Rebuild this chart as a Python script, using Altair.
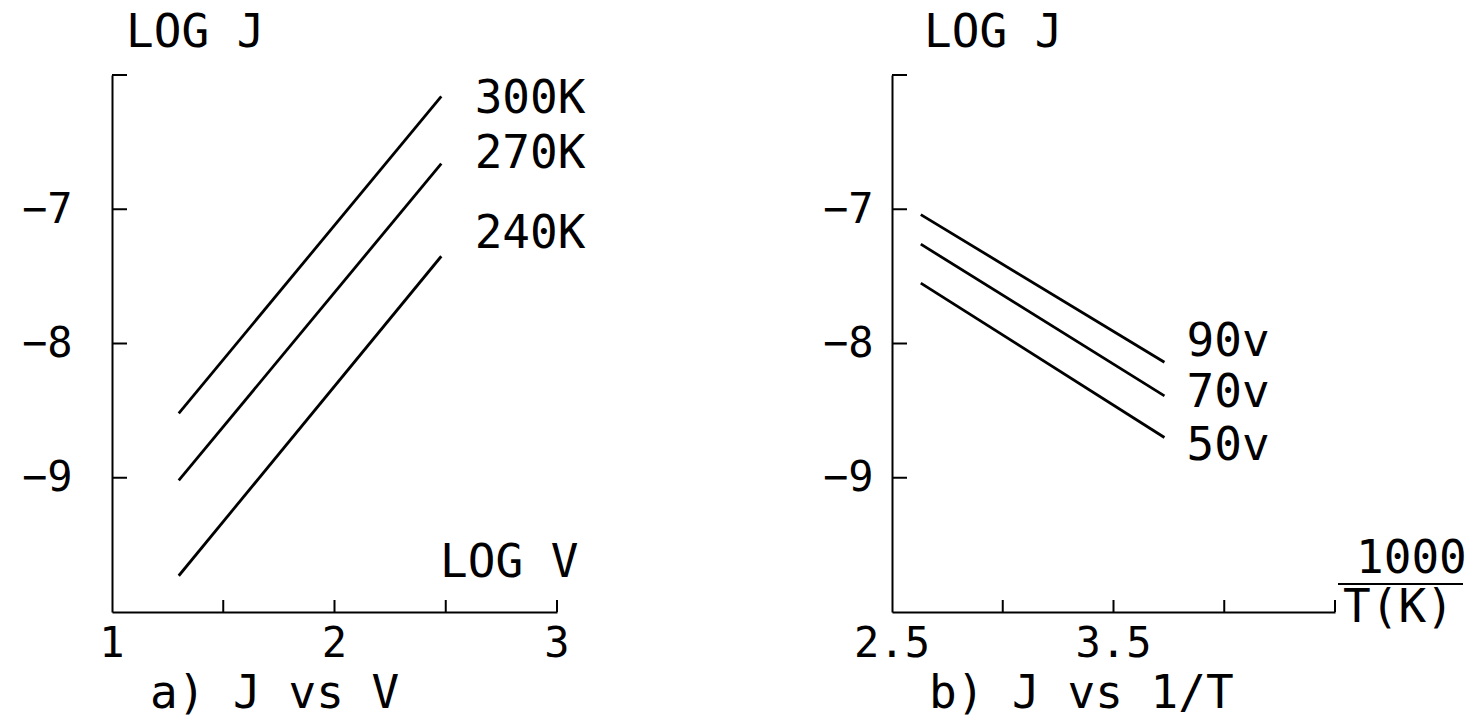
import altair as alt
import pandas as pd

# ---------------- data ----------------
# panel a) log J vs log V
log_v = [1.3, 2.48]
log_j_300k = [-8.52, -6.16]
log_j_270k = [-9.02, -6.66]
log_j_240k = [-9.73, -7.35]
temp_names = ["300K", "270K", "240K"]
temp_label_x = [2.63, 2.63, 2.63]
temp_label_y = [-6.28, -6.69, -7.29]

# panel b) log J vs 1000/T
inv_t = [2.63, 3.73]
log_j_90v = [-7.04, -8.14]
log_j_70v = [-7.26, -8.39]
log_j_50v = [-7.55, -8.70]
volt_names = ["90v", "70v", "50v"]
volt_label_x = [3.83, 3.83, 3.83]
volt_label_y = [-8.09, -8.47, -8.87]

# axes
y_domain = [-10, -6]
y_tick_values = [-6, -7, -8, -9]
y_label_values = [-7, -8, -9]
a_domain = [1, 3]
a_tick_values = [1.5, 2, 2.5, 3]
a_label_values = [1, 2, 3]
a_label_text = ["1", "2", "3"]
b_domain = [2.5, 4.5]
b_tick_values = [3.0, 3.5, 4.0, 4.5]
b_label_values = [2.5, 3.5]
b_label_text = ["2.5", "3.5"]

FONT = "DejaVu Sans Mono"
W_A, W_B, H = 445, 443, 537


def lines_frame(xs, series, names):
    rows = []
    for name, ys in zip(names, series):
        for x, y in zip(xs, ys):
            rows.append({"x": x, "y": y, "s": name})
    return pd.DataFrame(rows)


def panel(df, lab_df, domain, tick_vals, label_vals, label_text, w, ylab_pad,
          logj_dx, extra_texts, caption_dx, caption, extra_layers=()):
    xs = alt.Scale(domain=domain, nice=False, zero=False)
    ys = alt.Scale(domain=y_domain, nice=False, zero=False)
    xax = alt.Axis(
        values=label_vals, title=None, grid=False, ticks=False, labels=False,
        domainColor="black", domainWidth=2)
    yax = alt.Axis(
        values=y_label_values, format="d", title=None,
        grid=False, ticks=False, domainColor="black", domainWidth=2,
        labelFont=FONT, labelFontSize=42, labelColor="black",
        labelPadding=ylab_pad, labelOverlap=False, labelBound=False)
    X = lambda: alt.X("x:Q", scale=xs, axis=xax)
    Y = lambda: alt.Y("y:Q", scale=ys, axis=yax)

    lines = alt.Chart(df).mark_line(color="black", strokeWidth=2.8).encode(
        x=X(), y=Y(), detail="s:N")
    yt = alt.Chart(pd.DataFrame({"y": y_tick_values})).mark_rule(
        color="black", strokeWidth=2).encode(
        y=Y(), x=alt.value(0), x2=alt.value(15))
    xt = alt.Chart(pd.DataFrame({"x": tick_vals})).mark_rule(
        color="black", strokeWidth=2).encode(
        x=X(), y=alt.value(H), y2=alt.value(H - 12))
    xl = alt.Chart(pd.DataFrame({"x": label_vals, "t": label_text})).mark_text(
        align="center", baseline="alphabetic", font=FONT, fontSize=42,
        color="black").encode(x=X(), y=alt.value(H + 45), text="t:N")
    labels = alt.Chart(lab_df).mark_text(
        align="left", baseline="alphabetic", font=FONT, fontSize=46,
        color="black").encode(x=X(), y=Y(), text="t:N")
    layers = [lines, yt, xt, xl, labels]
    texts = [("LOG J", logj_dx, -28), (caption, caption_dx, 633)] + extra_texts
    for t, dx, dy in texts:
        layers.append(alt.Chart(pd.DataFrame({"t": [t]})).mark_text(
            align="left", baseline="alphabetic", font=FONT, fontSize=46,
            color="black").encode(text="t:N", x=alt.value(dx), y=alt.value(dy)))
    layers.extend(extra_layers)
    return alt.layer(*layers).properties(width=w, height=H)


df_a = lines_frame(log_v, [log_j_300k, log_j_270k, log_j_240k], temp_names)
lab_a = pd.DataFrame({"x": temp_label_x, "y": temp_label_y, "t": temp_names})
df_b = lines_frame(inv_t, [log_j_90v, log_j_70v, log_j_50v], volt_names)
lab_b = pd.DataFrame({"x": volt_label_x, "y": volt_label_y, "t": volt_names})

left = panel(df_a, lab_a, a_domain, a_tick_values, a_label_values, a_label_text,
             W_A, 40, 14, [("LOG V", 328, 502)], 38, "a) J vs V")

frac_bar = alt.Chart(pd.DataFrame({"t": ["bar"]})).mark_rule(
    color="black", strokeWidth=2).encode(
    x=alt.value(446), x2=alt.value(571), y=alt.value(509))
right = panel(df_b, lab_b, b_domain, b_tick_values, b_label_values, b_label_text,
              W_B, 19, 32, [("1000", 464, 498), ("T(K)", 451, 547)], 37,
              "b) J vs 1/T", extra_layers=[frac_bar])

chart = alt.hconcat(left, right, spacing=335, bounds="flush").properties(
    padding={"left": 21, "top": 10, "right": 5, "bottom": 5},
    background="white",
).configure_view(stroke=None)

chart.save("out.html", embed_options={"renderer": "svg", "actions": False})
